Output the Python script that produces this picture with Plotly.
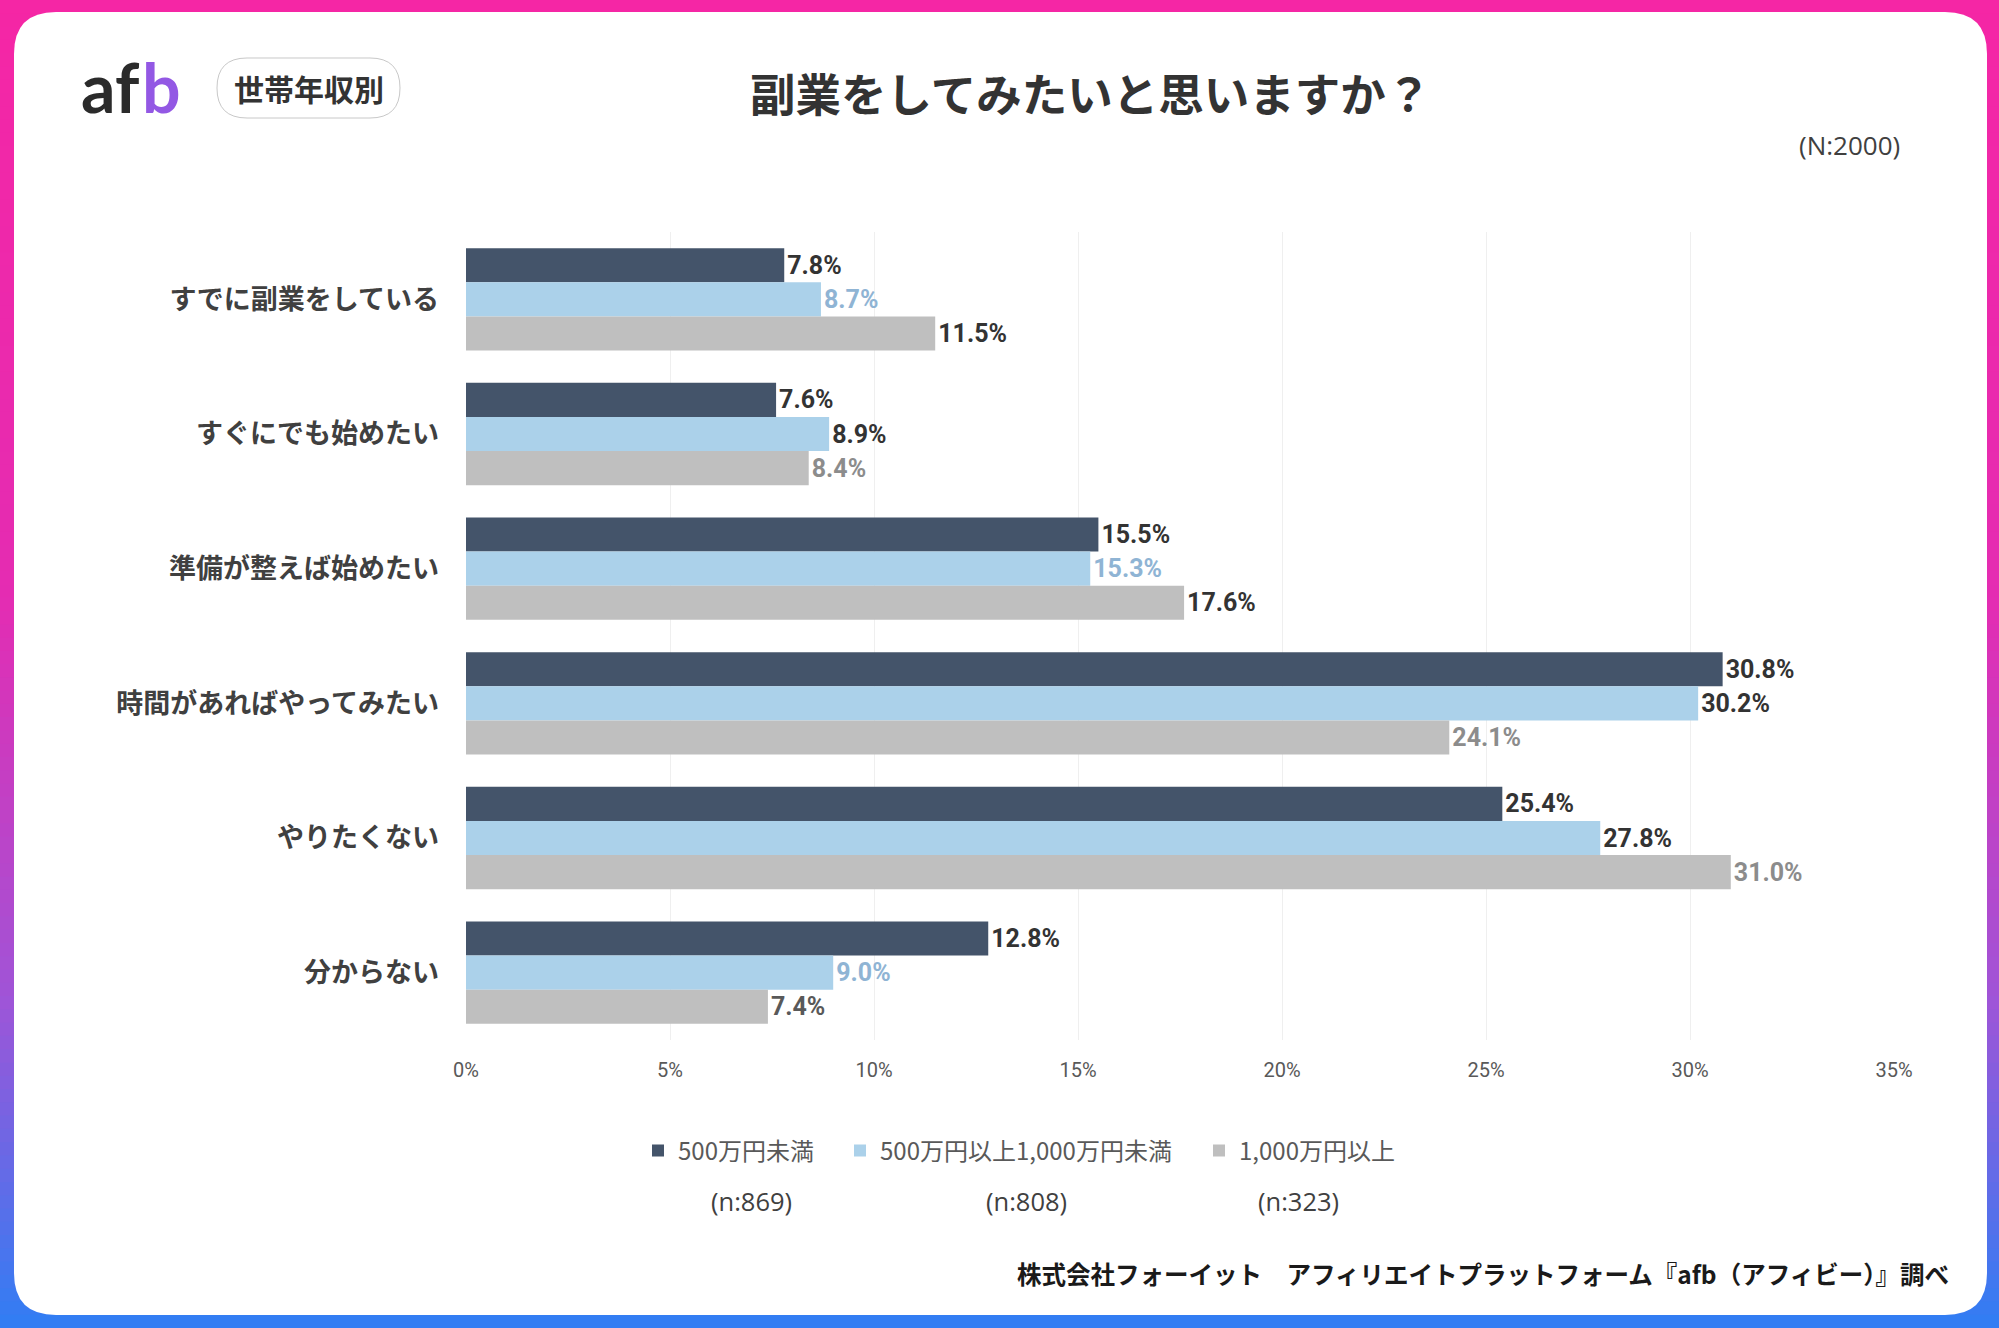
import plotly.graph_objects as go

W, H = 1999, 1328
L, R, T, B = 466, 105, 232, 288
PW, PH = W - L - R, H - T - B

categories = ["すでに副業をしている", "すぐにでも始めたい", "準備が整えば始めたい",
              "時間があればやってみたい", "やりたくない", "分からない"]
series_names = ["500万円未満", "500万円以上1,000万円未満", "1,000万円以上"]
series_n = ["(n:869)", "(n:808)", "(n:323)"]
under_500 = [7.8, 7.6, 15.5, 30.8, 25.4, 12.8]
from_500_to_1000 = [8.7, 8.9, 15.3, 30.2, 27.8, 9.0]
over_1000 = [11.5, 8.4, 17.6, 24.1, 31.0, 7.4]
x_ticks = [0, 5, 10, 15, 20, 25, 30, 35]
x_tick_labels = ["0%", "5%", "10%", "15%", "20%", "25%", "30%", "35%"]

bar_colors = ["#44546A", "#ABD1EA", "#BFBFBF"]
DK = "#333333"
BL = "#8FB4D4"
GR = "#8C8C8C"
label_colors = [
    [DK] * 6,
    [BL, DK, BL, DK, DK, BL],
    [DK, GR, DK, GR, GR, "#595959"],
]
legend_ids = ["legend", "legend2", "legend3"]
legend_x_px = [638, 840, 1199]
n_label_x_px = [751, 1026, 1298]


def xp(px):
    return (px - L) / PW


def yp(py):
    return (H - B - py) / PH


fig = go.Figure()
for name, vals, col, lc, lg in zip(series_names, [under_500, from_500_to_1000, over_1000],
                                   bar_colors, label_colors, legend_ids):
    fig.add_trace(go.Bar(
        y=categories, x=vals, name=name, orientation="h", legend=lg,
        marker=dict(color=col, line=dict(width=0)),
        texttemplate="%{x:.1f}%", textposition="outside",
        textfont=dict(family="Roboto", size=25, color=lc, weight="bold"),
        constraintext="none", cliponaxis=False, hoverinfo="skip",
    ))

shapes = []
stops = [(0.0, (245, 38, 165)), (0.45, (228, 44, 178)), (0.75, (160, 84, 215)), (1.0, (48, 126, 244))]


def grad(t):
    for (t0, c0), (t1, c1) in zip(stops[:-1], stops[1:]):
        if t0 <= t <= t1:
            f = (t - t0) / (t1 - t0)
            return "rgb(%d,%d,%d)" % tuple(round(a + (b - a) * f) for a, b in zip(c0, c1))
    return "rgb(%d,%d,%d)" % stops[-1][1]


N = 100
for i in range(N):
    y0 = H * i / N
    y1 = H * (i + 1) / N + 1
    shapes.append(dict(type="rect", xref="paper", yref="paper", layer="below",
                       x0=xp(-2), x1=xp(W + 2), y0=yp(y0), y1=yp(y1),
                       fillcolor=grad((i + 0.5) / N), line=dict(width=0)))


def rrect(x0, y0, x1, y1, r):
    pts = [
        ("M", [(x0 + r, y0)]), ("L", [(x1 - r, y0)]), ("Q", [(x1, y0), (x1, y0 + r)]),
        ("L", [(x1, y1 - r)]), ("Q", [(x1, y1), (x1 - r, y1)]), ("L", [(x0 + r, y1)]),
        ("Q", [(x0, y1), (x0, y1 - r)]), ("L", [(x0, y0 + r)]), ("Q", [(x0, y0), (x0 + r, y0)]),
    ]
    s = ""
    for cmd, ps in pts:
        s += cmd + " ".join("%.6f,%.6f" % (xp(a), yp(b)) for a, b in ps)
    return s + "Z"


shapes.append(dict(type="path", xref="paper", yref="paper", layer="below",
                   path=rrect(14, 12, 1987, 1315, 42), fillcolor="white", line=dict(width=0)))
shapes.append(dict(type="path", xref="paper", yref="paper", layer="above",
                   path=rrect(217, 58, 400, 118, 30), fillcolor="white",
                   line=dict(color="#C8C8C8", width=1)))

logo_font = dict(family="Lato", size=68, weight="bold")
annotations = [
    dict(text="af", x=xp(142), y=yp(86), xanchor="right",
         font=dict(logo_font, color="#2B2B2B")),
    dict(text="b", x=xp(140), y=yp(86), xanchor="left",
         font=dict(logo_font, color="#9358E4")),
    dict(text="世帯年収別", x=xp(308.5), y=yp(88),
         font=dict(family="Noto Sans CJK JP", size=30, color="#333333", weight="bold")),
    dict(text="副業をしてみたいと思いますか？", x=xp(1090), y=yp(92),
         font=dict(family="Noto Sans CJK JP", size=45.5, color="#333333", weight="bold")),
    dict(text="(N:2000)", x=xp(1849), y=yp(145),
         font=dict(family="Open Sans", size=26, color="#404040")),
    dict(text="株式会社フォーイット　アフィリエイトプラットフォーム『afb（アフィビー）』調べ",
         x=xp(1951), y=yp(1273), xanchor="right",
         font=dict(family="Noto Sans CJK JP", size=24.5, color="#1A1A1A", weight="bold")),
]
for txt, cx in zip(series_n, n_label_x_px):
    annotations.append(dict(text=txt, x=xp(cx), y=yp(1201),
                            font=dict(family="Open Sans", size=25.5, color="#404040")))
for a in annotations:
    a.setdefault("xanchor", "center")
    a.update(xref="paper", yref="paper", yanchor="middle", showarrow=False)

legend_style = dict(orientation="h", xref="container", yref="container",
                    xanchor="left", y=1 - 1151 / H, yanchor="middle",
                    font=dict(family="Noto Sans CJK JP", size=24, color="#595959"),
                    itemwidth=30, bgcolor="rgba(0,0,0,0)")

fig.update_layout(
    width=W, height=H,
    margin=dict(l=L, r=R, t=T, b=B, pad=0),
    paper_bgcolor="white", plot_bgcolor="rgba(0,0,0,0)",
    barmode="group", bargap=0.24, bargroupgap=0,
    showlegend=True,
    legend=dict(legend_style, x=legend_x_px[0] / W),
    legend2=dict(legend_style, x=legend_x_px[1] / W),
    legend3=dict(legend_style, x=legend_x_px[2] / W),
    xaxis=dict(range=[0, 35], tickmode="array", tickvals=x_ticks, ticktext=x_tick_labels,
               showgrid=True, gridcolor="#EFEFEF", gridwidth=1, zeroline=False, showline=False,
               ticks="", ticklabelstandoff=16,
               tickfont=dict(family="Roboto", size=20, color="#595959")),
    yaxis=dict(autorange="reversed", showgrid=False, zeroline=False, showline=False,
               ticks="", ticklabelstandoff=26,
               tickfont=dict(family="Noto Sans CJK JP", size=27, color="#404040", weight="bold")),
    shapes=shapes, annotations=annotations,
)

fig.write_html("out.html")
